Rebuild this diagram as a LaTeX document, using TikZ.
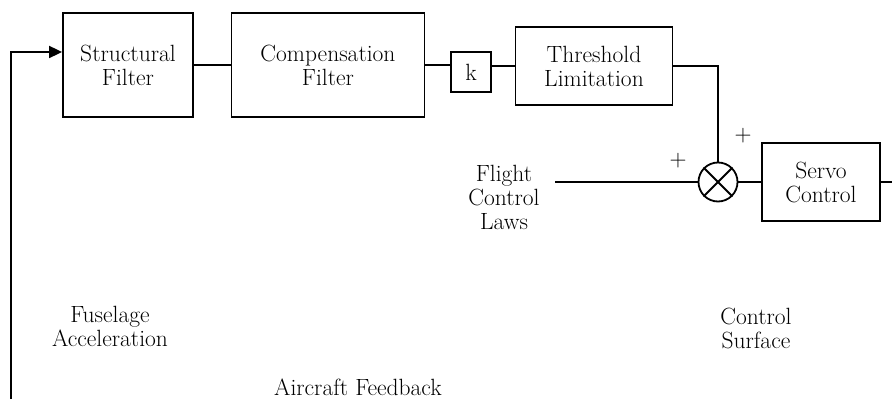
\documentclass[tikz,border=0pt]{standalone}
\usepackage{tikz}
\usetikzlibrary{arrows.meta,positioning,calc}

\begin{document}
\begin{tikzpicture}[x=1pt, y=-1pt,
    every node/.style={font=\fontsize{23.5}{24}\selectfont, align=center, inner sep=1pt},
    blk/.style={draw, line width=1.8pt, rectangle},
    lnk/.style={line width=1.8pt}]
    \useasboundingbox (0,0) rectangle (892,401);

    % forward path
    \node[blk, minimum width=130pt, minimum height=104pt] (sf) at (128,65) {Structural\\Filter};
    \node[blk, minimum width=193pt, minimum height=104pt] (cf) at (328,65) {Compensation\\Filter};
    \node[blk, minimum size=40pt] (k) at (471,72) {k};
    \node[blk, minimum width=157pt, minimum height=78pt] (tl) at (594,66) {Threshold\\Limitation};
    \node[blk, circle, minimum size=39pt, inner sep=0pt] (sum) at (718,182) {};
    \draw[lnk] (sum.north west) -- (sum.south east);
    \draw[lnk] (sum.north east) -- (sum.south west);
    \node[blk, minimum width=118pt, minimum height=78pt] (sc) at (821,182) {Servo\\Control};

    \coordinate (fcl) at (555,182);
    \coordinate (out) at (892,182);
    \coordinate (fb) at (11,399);
    \coordinate (fbturn) at (11,52);

    \draw[lnk] (sf) -- (cf);
    \draw[lnk] (cf.east) -- (cf.east -| k.west);
    \draw[lnk] (k.east |- tl.west) -- (tl.west);
    \draw[lnk] (tl.east) -| (sum.north);
    \draw[lnk] (fcl) -- (sum.west);
    \draw[lnk] (sum) -- (sc);
    \draw[lnk] (sc) -- (out);
    \draw[lnk, -{Triangle[length=13pt, width=12pt]}] (fb) -- (fbturn) -- (fbturn -| sf.west);

    % labels
    \node (plusl) at (678,161) {+};
    \node (plust) at (743,136) {+};
    \node (fcltxt) at (504,197) {Flight\\Control\\Laws};
    \node (fuse) at (110,326) {Fuselage\\Acceleration};
    \node (acfb) at (358,387) {Aircraft Feedback};
    \node (csurf) at (756,328) {Control\\Surface};
\end{tikzpicture}
\end{document}
